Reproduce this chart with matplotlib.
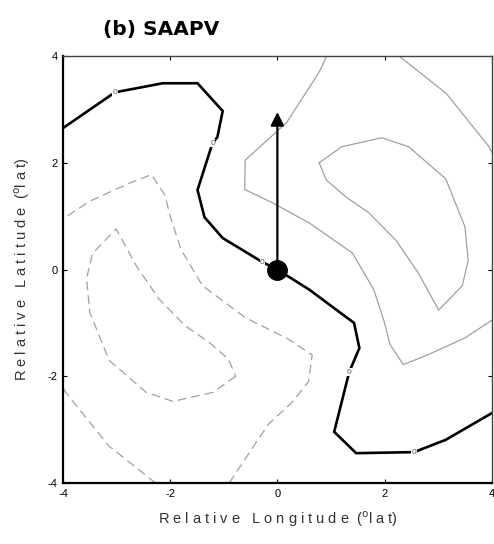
"""
SAAPV panel: relative lon/lat contour plot with motion vector
"""

import matplotlib
matplotlib.use('Agg')
import matplotlib.pyplot as plt

plt.rcParams['font.family'] = ['Liberation Sans', 'DejaVu Sans']

# zero contour (thick black)
zero_lon = [-4.0, -3.03, -2.14, -1.49, -1.02, -1.12, -1.21, -1.49, -1.36, -1.02,
            -0.28, 0.0, 0.6, 1.43, 1.53, 1.34, 1.06, 1.47, 2.55, 3.14, 4.0]
zero_lat = [2.65, 3.32, 3.49, 3.49, 2.97, 2.48, 2.37, 1.49, 0.98, 0.59,
            0.14, 0.0, -0.38, -1.0, -1.47, -1.92, -3.04, -3.44, -3.42, -3.19, -2.69]
zero_labels = [(-3.03, 3.32), (-1.21, 2.37), (-0.28, 0.14), (1.34, -1.92), (2.55, -3.42)]

# positive contours (thin grey, solid)
pos_a_lon = [0.92, 0.78, 0.17, -0.6, -0.61, -0.09, 0.6, 1.4, 1.8, 2.0, 2.1,
             2.35, 2.8, 3.5, 4.0]
pos_a_lat = [4.0, 3.7, 2.75, 2.05, 1.5, 1.25, 0.87, 0.31, -0.38, -1.0, -1.4,
             -1.78, -1.6, -1.28, -0.95]
pos_b_lon = [2.27, 3.15, 3.95, 4.0]
pos_b_lat = [4.0, 3.3, 2.3, 2.2]
pos_c_lon = [0.78, 1.2, 1.95, 2.45, 3.14, 3.5, 3.56, 3.45, 3.01, 2.62, 2.21,
             1.71, 1.28, 0.91, 0.78]
pos_c_lat = [2.0, 2.3, 2.47, 2.3, 1.7, 0.8, 0.17, -0.3, -0.76, -0.05, 0.55,
             1.06, 1.36, 1.68, 2.0]

# negative contours (thin grey, dashed)
neg_a_lon = [-0.9, -0.17, 0.28, 0.58, 0.65, 0.2, -0.6, -1.4, -1.8, -2.0, -2.1,
             -2.35, -2.8, -3.5, -4.0]
neg_a_lat = [-4.0, -2.9, -2.48, -2.1, -1.6, -1.3, -0.9, -0.3, 0.38, 1.0, 1.4,
             1.78, 1.6, 1.28, 0.95]
neg_b_lon = [-2.27, -3.15, -3.95, -4.0]
neg_b_lat = [-4.0, -3.3, -2.3, -2.2]
neg_c_lon = [-0.78, -1.2, -1.95, -2.45, -3.14, -3.5, -3.56, -3.45, -3.01, -2.62,
             -2.21, -1.71, -1.28, -0.91, -0.78]
neg_c_lat = [-2.0, -2.3, -2.47, -2.3, -1.7, -0.8, -0.17, 0.3, 0.76, 0.05,
             -0.55, -1.06, -1.36, -1.68, -2.0]

# storm motion vector
arrow_u = 0.0
arrow_v = 2.95

ticks = [-4, -2, 0, 2, 4]

fig = plt.figure(figsize=(4.94, 5.44), dpi=100)
ax = fig.add_axes([0.1275, 0.112, 0.868, 0.785])

grey = '#a0a0a0'
ax.plot(pos_a_lon, pos_a_lat, color=grey, lw=0.9)
ax.plot(pos_b_lon, pos_b_lat, color=grey, lw=0.9)
ax.plot(pos_c_lon, pos_c_lat, color=grey, lw=0.9)
for lo, la in [(neg_a_lon, neg_a_lat), (neg_b_lon, neg_b_lat), (neg_c_lon, neg_c_lat)]:
    ax.plot(lo, la, color=grey, lw=0.9, dashes=(7, 4))

ax.plot(zero_lon, zero_lat, color='black', lw=1.9, solid_joinstyle='miter')
for lo, la in zero_labels:
    ax.text(lo, la, '0', fontsize=6, ha='center', va='center', color='#555555',
            bbox=dict(boxstyle='square,pad=0.05', fc='white', ec='none'))

ax.annotate('', xy=(arrow_u, arrow_v), xytext=(0, 0),
            arrowprops=dict(arrowstyle='-|>,head_length=0.8,head_width=0.4',
                            color='black', lw=1.6, shrinkA=0, shrinkB=0))
ax.plot([0], [0], 'o', color='black', ms=14, zorder=5)

ax.set_xlim(-4, 4)
ax.set_ylim(-4, 4)
ax.set_xticks(ticks)
ax.set_yticks(ticks)
ax.set_xticklabels([str(t) for t in ticks], fontsize=8)
ax.set_yticklabels([str(t) for t in ticks], fontsize=8)
ax.tick_params(direction='in', length=3, top=True, right=True, width=0.8, pad=4)
for s in ['left', 'bottom']:
    ax.spines[s].set_linewidth(1.6)
for s in ['top', 'right']:
    ax.spines[s].set_linewidth(1.0)
    ax.spines[s].set_color('#444444')

ax.set_xlabel('R e l a t i v e   L o n g i t u d e  ($^{\\rm o}$l a t)',
              fontsize=10.5, labelpad=8, color='#333333')
ax.set_ylabel('R e l a t i v e   L a t i t u d e  ($^{\\rm o}$l a t)',
              fontsize=10.5, labelpad=11, color='#333333')
fig.text(0.208, 0.945, '(b) SAAPV', fontsize=14.5, fontweight='bold',
         family='DejaVu Sans', ha='left', va='center')

plt.savefig('out.png', dpi=100)
